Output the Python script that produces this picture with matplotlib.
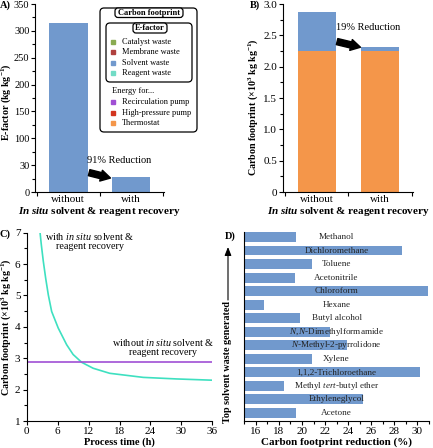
import numpy as np
import matplotlib
matplotlib.use('Agg')
import matplotlib.pyplot as plt
import matplotlib.transforms as mtransforms
from matplotlib.patches import FancyBboxPatch, Rectangle
from matplotlib.ticker import MultipleLocator, FixedLocator

plt.rcParams['font.family'] = ['Liberation Serif', 'DejaVu Serif']
plt.rcParams['mathtext.fontset'] = 'custom'
plt.rcParams['mathtext.rm'] = 'Liberation Serif'
plt.rcParams['mathtext.it'] = 'Liberation Serif:italic'
plt.rcParams['mathtext.bf'] = 'Liberation Serif:bold'
plt.rcParams['mathtext.bfit'] = 'Liberation Serif:italic:bold'
plt.rcParams['mathtext.default'] = 'regular'

###############################################################################
# Data
recovery = ['without', 'with']
efactor_solvent = [315, 28]
cf_thermostat = [2.25, 2.25]
cf_solvent = [0.63, 0.07]

time_h = [2.58, 2.84, 3.22, 3.68, 4.19, 4.84, 6.12, 7.75, 9.0, 10.66, 12.9, 16.1, 22.6, 29.1, 36]
cf_with = [7.02, 6.61, 6.09, 5.55, 5.02, 4.49, 3.96, 3.43, 3.12, 2.87, 2.68, 2.52, 2.39, 2.34, 2.30]
cf_without = 2.87

solvents = ['Methanol', 'Dichloromethane', 'Toluene', 'Acetonitrile', 'Chloroform', 'Hexane',
            'Butyl alcohol', r'$\it{N,N}$-Dimethylformamide', r'$\it{N}$-Methyl-2-pyrrolidone',
            'Xylene', '1,1,2-Trichloroethane', r'Methyl $\it{tert}$-butyl ether',
            'Ethyleneglycol', 'Acetone']
cf_reduction = [19.5, 28.7, 20.9, 19.4, 30.95, 16.7, 19.85, 22.4, 23.9, 20.85, 30.2, 18.45, 25.25, 19.45]

efactor_items = ['Catalyst waste', 'Membrane waste', 'Solvent waste', 'Reagent waste']
efactor_colors = ['#8aab52', '#b0413e', '#7199cd', '#72dcc6']
energy_items = ['Recirculation pump', 'High-pressure pump', 'Thermostat']
energy_colors = ['#a04fd4', '#d2351f', '#f4964a']

blue = '#7199cd'
orange = '#f4964a'
W, H = 433, 448

fig = plt.figure(figsize=(W / 100, H / 100), dpi=100)
# pixel coords measured from the top-left corner
px = mtransforms.Affine2D().scale(1, -1).translate(0, H).scale(0.01) + fig.dpi_scale_trans

def axbox(l, t, r, b):
    return [l / W, 1 - b / H, (r - l) / W, (b - t) / H]

def style(ax):
    ax.spines['top'].set_visible(False)
    ax.spines['right'].set_visible(False)
    ax.tick_params(direction='out', labelsize=8, length=3, width=0.8, pad=1.5)
    ax.tick_params(which='minor', direction='out', length=2, width=0.8)

def bar_xaxis(ax):
    ax.set_xticks([0, 1])
    ax.set_xticklabels(recovery)
    ax.xaxis.set_minor_locator(FixedLocator([-0.5, 0.5, 1.5]))
    ax.tick_params(axis='x', which='major', length=0, pad=2)
    ax.tick_params(axis='x', which='minor', length=3)
    ax.set_xlim(-0.53, 1.52)
    ax.set_xlabel(r'$\bfit{In\ situ}$ solvent & reagent recovery', fontsize=8,
                  fontweight='bold', labelpad=1)

ylab_cf = 'Carbon footprint (×10$^3$ kg kg$^{-1}$)'

###############################################################################
# A) E-factor
axA = fig.add_axes(axbox(35, 4, 164, 192))
style(axA)
x = np.arange(len(recovery))
axA.bar(x, efactor_solvent, width=0.61, color=blue)
axA.set_ylim(0, 350)
axA.set_yticks([0, 50, 100, 150, 200, 250, 300, 350])
axA.set_yticklabels(['0', '30', '100', '150', '200', '250', '300', '350'])
axA.yaxis.set_minor_locator(MultipleLocator(25))
axA.tick_params(axis='y', labelsize=7.5, pad=1)
bar_xaxis(axA)
axA.set_ylabel('E-factor (kg kg$^{-1}$)', fontsize=7.2, fontweight='bold')
axA.yaxis.set_label_coords(-0.172, 0.48)
axA.annotate('', xy=(0.67, 26), xytext=(0.33, 36),
             arrowprops=dict(arrowstyle='simple,head_length=0.7,head_width=0.8,tail_width=0.45',
                             color='black', shrinkA=0, shrinkB=0))
axA.text(0.8, 58, '91% Reduction', ha='center', va='center', fontsize=7.5)

# legend box drawn by hand
fig.patches.append(FancyBboxPatch((100, 8), 97, 124, boxstyle='round,pad=0,rounding_size=4',
                                  transform=px, fill=False, lw=0.9, ec='black'))
fig.patches.append(FancyBboxPatch((115, 8), 68, 9.5, boxstyle='round,pad=0,rounding_size=3',
                                  transform=px, fc='white', lw=0.9, ec='black'))
fig.text(149, 12.8, 'Carbon footprint', transform=px, ha='center', va='center',
         fontsize=6, fontweight='bold')
fig.patches.append(FancyBboxPatch((106, 23), 86, 59, boxstyle='round,pad=0,rounding_size=4',
                                  transform=px, fill=False, lw=0.9, ec='black'))
fig.patches.append(FancyBboxPatch((133, 23), 34, 10, boxstyle='round,pad=0,rounding_size=3',
                                  transform=px, fc='white', lw=0.9, ec='black'))
fig.text(150, 28, 'E-factor', transform=px, ha='center', va='center', fontsize=6, fontweight='bold')
for i, (lab, col) in enumerate(zip(efactor_items, efactor_colors)):
    yy = 41.7 + i * 10.55
    fig.patches.append(Rectangle((111, yy - 2), 4, 4, transform=px, color=col))
    fig.text(122, yy, lab, transform=px, va='center', fontsize=6)
fig.text(112, 91, 'Energy for...', transform=px, va='center', fontsize=6)
for i, (lab, col) in enumerate(zip(energy_items, energy_colors)):
    yy = 102 + i * 10.65
    fig.patches.append(Rectangle((111, yy - 2), 4, 4, transform=px, color=col))
    fig.text(122, yy, lab, transform=px, va='center', fontsize=6)

###############################################################################
# B) Carbon footprint
axB = fig.add_axes(axbox(283.3, 4, 413, 192))
style(axB)
axB.bar(x, cf_thermostat, width=0.61, color=orange)
axB.bar(x, cf_solvent, width=0.61, bottom=cf_thermostat, color=blue)
axB.set_ylim(0, 3)
axB.set_yticks(np.arange(0, 3.01, 0.5))
axB.set_yticklabels(['0'] + ['%.1f' % v for v in np.arange(0.5, 3.01, 0.5)])
axB.yaxis.set_minor_locator(MultipleLocator(0.25))
bar_xaxis(axB)
axB.set_ylabel(ylab_cf, fontsize=7.2, fontweight='bold')
axB.yaxis.set_label_coords(-0.18, 0.45)
axB.annotate('', xy=(0.69, 2.31), xytext=(0.32, 2.4),
             arrowprops=dict(arrowstyle='simple,head_length=0.7,head_width=0.8,tail_width=0.45',
                             color='black', shrinkA=0, shrinkB=0))
axB.text(0.81, 2.62, '19% Reduction', ha='center', va='center', fontsize=7.5)

###############################################################################
# C) Carbon footprint vs process time
axC = fig.add_axes(axbox(26.7, 232.7, 212.3, 421))
style(axC)
axC.plot(time_h, cf_with, color='#3ee0c0', lw=1.2)
axC.axhline(cf_without, color='#a04fd4', lw=1.2)
axC.set_xlim(0, 36)
axC.set_ylim(1, 7)
axC.xaxis.set_major_locator(MultipleLocator(6))
axC.yaxis.set_major_locator(MultipleLocator(1))
axC.yaxis.set_minor_locator(MultipleLocator(0.5))
axC.set_xlabel('Process time (h)', fontsize=7.5, fontweight='bold', labelpad=1)
axC.set_ylabel(ylab_cf, fontsize=7.2, fontweight='bold')
axC.yaxis.set_label_coords(-0.076, 0.5)
axC.text(12.3, 6.75, 'with $\\it{in\\ situ}$ solvent &\nreagent recovery', ha='center',
         va='center', fontsize=7.3, linespacing=1.0)
axC.text(26.4, 3.36, 'without $\\it{in\\ situ}$ solvent &\nreagent recovery', ha='center',
         va='center', fontsize=7.3, linespacing=1.0)

###############################################################################
# D) Carbon footprint reduction per solvent
axD = fig.add_axes(axbox(244.3, 231.7, 429, 421))
style(axD)
pos = np.arange(len(solvents))
axD.barh(pos, cf_reduction, height=0.72, color=blue)
for p, s in zip(pos, solvents):
    axD.text(23, p, s, ha='center', va='center', fontsize=6.6, color='#222222')
axD.set_xlim(15, 31)
axD.set_ylim(13.6, -0.4)
axD.set_yticks([])
axD.xaxis.set_major_locator(MultipleLocator(2))
axD.xaxis.set_minor_locator(MultipleLocator(1))
axD.set_xlabel('Carbon footprint reduction (%)', fontsize=8, fontweight='bold', labelpad=1)
fig.text(228, 362, 'Top solvent waste generated', transform=px, rotation=90, ha='center',
         va='center', fontsize=7.3, fontweight='bold')
axD.annotate('', xy=(228, 247), xytext=(228, 300), xycoords=px, textcoords=px,
             arrowprops=dict(arrowstyle='-|>,head_length=0.5,head_width=0.2', color='black',
                             lw=0.8, shrinkA=0, shrinkB=0))

###############################################################################
# Panel letters
for lab, (lx, ly) in zip(['A)', 'B)', 'C)', 'D)'], [(0, 5), (250, 5), (0, 234), (225, 236)]):
    fig.text(lx, ly, lab, transform=px, ha='left', va='center', fontsize=7.5, fontweight='bold')

plt.savefig('out.png', dpi=100)
